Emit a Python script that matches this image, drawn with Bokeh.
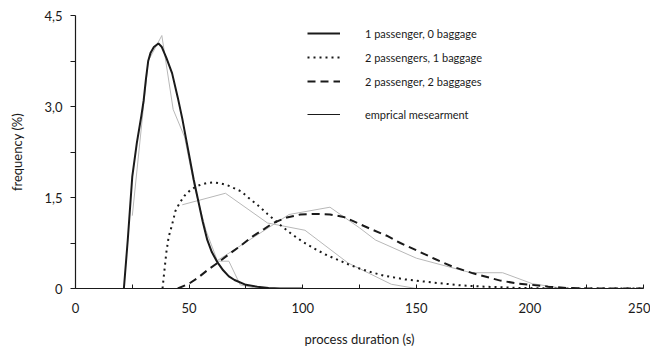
from bokeh.plotting import figure
from bokeh.models import FixedTicker, Legend, LegendItem, Range1d
from bokeh.embed import file_html
from bokeh.resources import INLINE

# ---- data ----
solid_x = [21.3, 23, 25, 27, 29, 30, 31, 32, 33, 34.5, 36.5, 38, 40, 42.5, 45, 47, 49, 50,
           52, 54, 56, 58, 60, 62.5, 65, 67.5, 70, 75, 80, 85, 90, 100]
solid_y = [0, 0.8, 1.85, 2.4, 2.85, 3.1, 3.45, 3.75, 3.88, 3.98, 4.04, 3.98, 3.8, 3.55, 3.15, 2.8, 2.4, 2.2,
           1.8, 1.45, 1.1, 0.8, 0.6, 0.43, 0.3, 0.2, 0.14, 0.06, 0.03, 0.01, 0.0, 0.0]

dot_x = [38.3, 39, 40, 41, 42.5, 44, 46, 48, 50.5, 53, 55, 58, 61, 64, 67, 70, 73, 76, 80, 84.5,
         90, 95, 100, 105, 110, 115, 120, 125, 130, 136, 145, 157, 170, 180, 195, 210, 250]
dot_y = [0, 0.25, 0.6, 0.85, 1.05, 1.28, 1.42, 1.53, 1.62, 1.68, 1.71, 1.74, 1.75, 1.73, 1.7, 1.65, 1.6, 1.5, 1.38, 1.23,
         1.05, 0.9, 0.77, 0.66, 0.56, 0.48, 0.40, 0.33, 0.27, 0.21, 0.15, 0.1, 0.05, 0.03, 0.01, 0.0, 0.0]

dash_x = [45, 50, 54, 58, 62.5, 67, 72.5, 78, 83, 87, 93, 99, 105, 112, 118, 124, 130, 137, 143, 150,
          158, 166, 175, 187, 195, 201, 208, 216, 225, 250]
dash_y = [0, 0.08, 0.18, 0.3, 0.42, 0.55, 0.7, 0.86, 0.98, 1.08, 1.17, 1.22, 1.23, 1.22, 1.18, 1.08, 0.98, 0.87, 0.75, 0.63,
          0.49, 0.36, 0.25, 0.13, 0.08, 0.06, 0.03, 0.01, 0.0, 0.0]

emp1_x = [25, 32, 38, 43, 48, 52.5, 57.5, 62.5, 67.5, 72.5, 80]
emp1_y = [1.2, 3.75, 4.17, 2.95, 2.5, 1.65, 0.95, 0.45, 0.45, 0.06, 0.0]
emp2_x = [47, 66, 84.5, 101, 120, 139, 150]
emp2_y = [1.38, 1.57, 1.08, 0.96, 0.42, 0.07, 0.0]
emp3_x = [62, 94, 112, 125, 132, 150, 174, 188, 201, 215, 250]
emp3_y = [0.45, 1.22, 1.34, 1.0, 0.8, 0.5, 0.26, 0.26, 0.08, 0.0, 0.0]

x_ticks = [0, 50, 100, 150, 200, 250]
x_minor = [25, 75, 125, 175, 225]
y_ticks = [0, 1.5, 3.0, 4.5]
y_minor = [0.75, 2.25, 3.75]
y_labels = {0: "0", 1.5: "1,5", 3.0: "3,0", 4.5: "4,5"}

labels = ["1 passenger, 0 baggage", "2 passengers, 1 baggage", "2 passenger, 2 baggages", "emprical mesearment"]

FONT = "Lato"
INK = "#1a1a1a"
GRAY = "#b8b8b8"
NAN = float("nan")

p = figure(width=650, height=350, output_backend="svg", toolbar_location=None,
           x_range=Range1d(0, 250), y_range=Range1d(0, 4.5),
           min_border_left=75, min_border_right=7, min_border_top=15, min_border_bottom=62)
p.outline_line_color = None
p.grid.visible = False
p.background_fill_color = "white"

# empirical lines
p.line(emp1_x, emp1_y, line_color=GRAY, line_width=1)
p.line(emp2_x, emp2_y, line_color=GRAY, line_width=1)
p.line(emp3_x, emp3_y, line_color=GRAY, line_width=1)

r1 = p.line(solid_x, solid_y, line_color=INK, line_width=2)
r2 = p.line(dot_x, dot_y, line_color=INK, line_width=2, line_dash="2 4")
r3 = p.line(dash_x, dash_y, line_color=INK, line_width=2, line_dash="8 5")
r4 = p.line([NAN], [NAN], line_color=INK, line_width=1)

# axes
xa = p.xaxis[0]
xa.ticker = FixedTicker(ticks=x_ticks, minor_ticks=x_minor)
xa.major_tick_in = 4
xa.major_tick_out = 0
xa.minor_tick_in = 4
xa.minor_tick_out = 0
xa.major_label_standoff = 14
xa.axis_label = "process duration (s)"
xa.axis_label_standoff = 15

ya = p.yaxis[0]
ya.ticker = FixedTicker(ticks=y_ticks, minor_ticks=y_minor)
ya.major_label_overrides = y_labels
ya.major_tick_in = 0
ya.major_tick_out = 5
ya.minor_tick_in = 0
ya.minor_tick_out = 5
ya.major_label_standoff = 8
ya.axis_label = "frequency (%)"
ya.axis_label_standoff = 16

for ax in (xa, ya):
    ax.axis_line_color = INK
    ax.axis_line_width = 1.2
    ax.major_tick_line_color = INK
    ax.minor_tick_line_color = INK
    ax.major_label_text_font = FONT
    ax.major_label_text_font_size = "13px"
    ax.major_label_text_color = INK
    ax.axis_label_text_font = FONT
    ax.axis_label_text_font_size = "13px"
    ax.axis_label_text_font_style = "normal"
    ax.axis_label_text_color = INK

def make_legend(items, loc):
    lg = Legend(items=items, location=loc, orientation="vertical",
                glyph_width=33, glyph_height=20, label_height=20, label_standoff=25,
                spacing=4, padding=0, margin=0, border_line_color=None,
                background_fill_alpha=0, label_text_font=FONT,
                label_text_font_size="11px", label_text_color=INK)
    return lg

leg1 = make_legend([LegendItem(label=labels[0], renderers=[r1]),
                    LegendItem(label=labels[1], renderers=[r2]),
                    LegendItem(label=labels[2], renderers=[r3])], (232, 197))
leg2 = make_legend([LegendItem(label=labels[3], renderers=[r4])], (232, 164))
p.add_layout(leg1, "center")
p.add_layout(leg2, "center")

open("out.html", "w").write(file_html(p, INLINE))
